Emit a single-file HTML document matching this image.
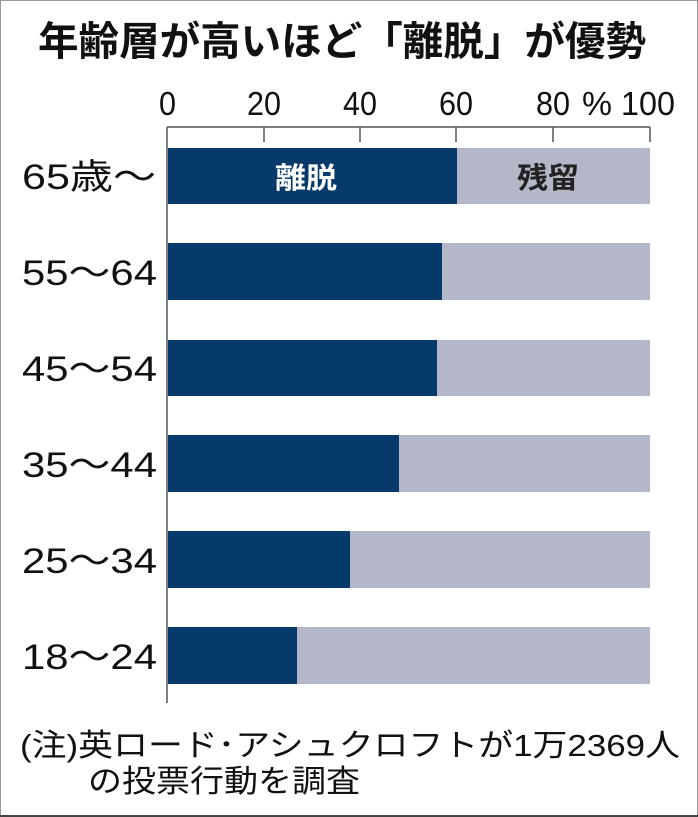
<!DOCTYPE html>
<html><head><meta charset="utf-8"><style>
html,body{margin:0;padding:0;background:#fff;}
svg{display:block;}
text{font-family:"Liberation Sans","Noto Sans CJK JP",sans-serif;}
</style></head><body>
<svg width="698" height="817" viewBox="0 0 698 817" xmlns="http://www.w3.org/2000/svg">
<rect x="0.5" y="0.5" width="697" height="815" fill="#fff" stroke="#999" stroke-width="1"/>
<line x1="0" y1="816" x2="698" y2="816" stroke="#444" stroke-width="2"/>
<text x="38" y="55" font-size="40" font-weight="bold" fill="#111" textLength="608" lengthAdjust="spacingAndGlyphs">年齢層が高いほど「離脱」が優勢</text>
<g font-size="33" fill="#111">
<text x="159" y="115" textLength="17" lengthAdjust="spacingAndGlyphs">0</text>
<text x="247" y="115" textLength="34" lengthAdjust="spacingAndGlyphs">20</text>
<text x="343" y="115" textLength="34" lengthAdjust="spacingAndGlyphs">40</text>
<text x="439" y="115" textLength="34" lengthAdjust="spacingAndGlyphs">60</text>
<text x="536" y="115" textLength="34" lengthAdjust="spacingAndGlyphs">80</text>
<text x="582" y="115" textLength="30" lengthAdjust="spacingAndGlyphs">%</text>
<text x="621" y="115" textLength="54" lengthAdjust="spacingAndGlyphs">100</text>
</g>
<g stroke="#555" stroke-width="1.5" fill="none">
<line x1="167" y1="127" x2="650" y2="127"/>
<line x1="167" y1="127" x2="167" y2="703"/>
<line x1="264" y1="127" x2="264" y2="142"/>
<line x1="360" y1="127" x2="360" y2="142"/>
<line x1="456" y1="127" x2="456" y2="142"/>
<line x1="553" y1="127" x2="553" y2="142"/>
<line x1="650" y1="127" x2="650" y2="142"/>
</g>
<g fill="#b3b7c7">
<rect x="168" y="148" width="482" height="56"/>
<rect x="168" y="243" width="482" height="57"/>
<rect x="168" y="340" width="482" height="56"/>
<rect x="168" y="435" width="482" height="57"/>
<rect x="168" y="531" width="482" height="57"/>
<rect x="168" y="627" width="482" height="57"/>
</g>
<g fill="#063a6b">
<rect x="168" y="148" width="289" height="56"/>
<rect x="168" y="243" width="274" height="57"/>
<rect x="168" y="340" width="269" height="56"/>
<rect x="168" y="435" width="231" height="57"/>
<rect x="168" y="531" width="182" height="57"/>
<rect x="168" y="627" width="129" height="57"/>
</g>
<text x="275" y="188" font-size="29" font-weight="bold" fill="#fff" textLength="62" lengthAdjust="spacingAndGlyphs">離脱</text>
<text x="517" y="188" font-size="29" font-weight="bold" fill="#222" textLength="62" lengthAdjust="spacingAndGlyphs">残留</text>
<g font-size="35" fill="#111">
<text x="22" y="189" textLength="134" lengthAdjust="spacingAndGlyphs">65歳～</text>
<text x="22" y="285" textLength="135" lengthAdjust="spacingAndGlyphs">55～64</text>
<text x="22" y="381" textLength="135" lengthAdjust="spacingAndGlyphs">45～54</text>
<text x="22" y="477" textLength="135" lengthAdjust="spacingAndGlyphs">35～44</text>
<text x="22" y="573" textLength="135" lengthAdjust="spacingAndGlyphs">25～34</text>
<text x="22" y="669" textLength="135" lengthAdjust="spacingAndGlyphs">18～24</text>
</g>
<text x="20" y="756" font-size="31" fill="#111" textLength="660" lengthAdjust="spacingAndGlyphs">(注)英ロード･アシュクロフトが1万2369人</text>
<text x="88" y="792" font-size="31" fill="#111" textLength="272" lengthAdjust="spacingAndGlyphs">の投票行動を調査</text>
</svg>
</body></html>
